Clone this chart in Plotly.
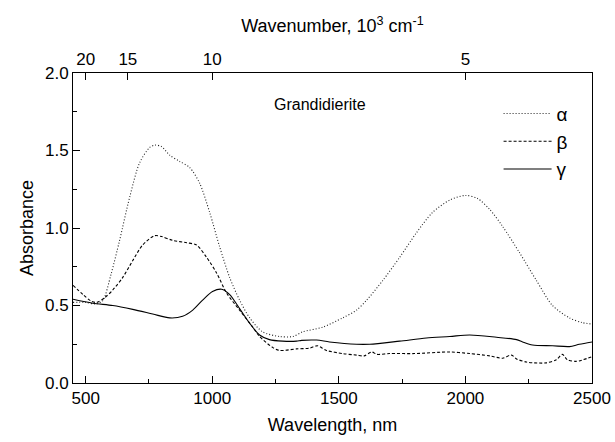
import plotly.graph_objects as go

# Polarized absorption spectra of grandidierite (absorbance vs wavelength, nm)
wl_alpha = [450, 500, 540, 567, 600, 634, 674, 713, 753, 776, 800, 832, 871, 911, 950,
            990, 1029, 1069, 1108, 1148, 1199, 1266, 1318, 1357, 1436, 1515, 1570, 1610,
            1673, 1740, 1807, 1870, 1938, 2000, 2048, 2096, 2147, 2214, 2281, 2344, 2411,
            2460, 2500]
abs_alpha = [0.52, 0.52, 0.51, 0.53, 0.70, 0.92, 1.20, 1.42, 1.52, 1.535, 1.525, 1.47, 1.43,
             1.39, 1.29, 1.10, 0.88, 0.68, 0.535, 0.42, 0.33, 0.30, 0.30, 0.33, 0.36, 0.42,
             0.47, 0.535, 0.66, 0.81, 0.97, 1.10, 1.18, 1.21, 1.19, 1.12, 1.01, 0.84, 0.66,
             0.50, 0.42, 0.39, 0.38]

wl_beta = [450, 490, 520, 543, 575, 607, 646, 686, 725, 772, 800, 844, 899, 938, 978, 1017,
           1057, 1108, 1160, 1187, 1238, 1266, 1333, 1384, 1416, 1451, 1515, 1570, 1600,
           1630, 1650, 1700, 1800, 1938, 2017, 2096, 2147, 2182, 2202, 2241, 2273, 2320,
           2359, 2383, 2403, 2439, 2500]
abs_beta = [0.63, 0.57, 0.53, 0.52, 0.55, 0.60, 0.68, 0.79, 0.89, 0.95, 0.945, 0.92, 0.905,
            0.89, 0.81, 0.71, 0.58, 0.47, 0.36, 0.30, 0.23, 0.21, 0.22, 0.225, 0.24, 0.21,
            0.19, 0.18, 0.175, 0.20, 0.185, 0.19, 0.19, 0.20, 0.19, 0.175, 0.16, 0.18, 0.155,
            0.135, 0.13, 0.13, 0.15, 0.185, 0.15, 0.14, 0.17]

wl_gamma = [450, 528, 607, 686, 765, 832, 883, 923, 962, 1001, 1037, 1069, 1108, 1148, 1187,
            1226, 1278, 1333, 1353, 1412, 1463, 1570, 1622, 1740, 1846, 1938, 2017, 2123,
            2202, 2226, 2265, 2344, 2411, 2450, 2500]
abs_gamma = [0.54, 0.515, 0.50, 0.475, 0.445, 0.42, 0.43, 0.47, 0.535, 0.59, 0.605, 0.57,
             0.48, 0.385, 0.31, 0.28, 0.27, 0.27, 0.275, 0.277, 0.265, 0.25, 0.25, 0.27, 0.29,
             0.30, 0.31, 0.295, 0.28, 0.265, 0.245, 0.24, 0.235, 0.25, 0.265]

# Bottom axis ticks (nm) and top wavenumber ticks (10^3 cm^-1)
wl_ticks = [500, 1000, 1500, 2000, 2500]
wn_labels = [20, 15, 10, 5]
wn_ticks = [1e4 / k for k in wn_labels]  # corresponding wavelength, nm

FONT = "Liberation Sans, Arial, sans-serif"
TICK_SIZE = 17
TITLE_SIZE = 18
line_w = 1.1

fig = go.Figure()
fig.add_trace(go.Scatter(x=wl_alpha, y=abs_alpha, mode="lines", name="\u03b1",
                         line=dict(color="#222222", width=line_w, dash="1px,2px",
                                   shape="spline", smoothing=0.8)))
fig.add_trace(go.Scatter(x=wl_beta, y=abs_beta, mode="lines", name="\u03b2",
                         line=dict(color="black", width=line_w, dash="3px,2px",
                                   shape="spline", smoothing=0.8)))
fig.add_trace(go.Scatter(x=wl_gamma, y=abs_gamma, mode="lines", name="\u03b3",
                         line=dict(color="black", width=line_w,
                                   shape="spline", smoothing=0.8)))
# invisible trace that carries the top wavenumber axis
fig.add_trace(go.Scatter(x=[450, 2500], y=[0, 0], xaxis="x2", mode="lines",
                         line=dict(width=0), showlegend=False, hoverinfo="skip"))

fig.add_annotation(x=1425, y=1.80, text="Grandidierite", showarrow=False,
                   font=dict(size=16, color="black", family=FONT))

fig.update_layout(
    width=615, height=442,
    margin=dict(l=73, r=23, t=73, b=59, autoexpand=False),
    paper_bgcolor="white", plot_bgcolor="white",
    font=dict(family=FONT, color="black", size=TICK_SIZE),
    showlegend=True,
    legend=dict(x=0.82, y=0.93, xanchor="left", yanchor="top",
                bgcolor="rgba(0,0,0,0)", font=dict(size=19, family=FONT),
                tracegroupgap=0, itemwidth=48),
    xaxis=dict(range=[450, 2500], tickvals=wl_ticks, ticks="inside", ticklen=7,
               tickwidth=1, tickcolor="black", showline=True, linecolor="black",
               linewidth=1, mirror=False, showgrid=False, zeroline=False,
               automargin=False,
               minor=dict(tickvals=[750, 1250, 1750, 2250], ticks="inside", ticklen=4,
                          tickcolor="black"),
               title=dict(text="Wavelength, nm", font=dict(size=TITLE_SIZE), standoff=10),
               tickfont=dict(size=TICK_SIZE)),
    xaxis2=dict(range=[450, 2500], overlaying="x", side="top", tickvals=wn_ticks,
                ticktext=[str(k) for k in wn_labels], ticks="inside", ticklen=7,
                tickcolor="black", showline=True, linecolor="black", linewidth=1,
                showgrid=False, zeroline=False, automargin=False,
                title=dict(text="Wavenumber, 10<sup>3</sup> cm<sup>-1</sup>",
                           font=dict(size=TITLE_SIZE), standoff=12),
                tickfont=dict(size=TICK_SIZE)),
    yaxis=dict(range=[0, 2], tickvals=[0, 0.5, 1.0, 1.5, 2.0], tickformat=".1f",
               ticks="inside", ticklen=7, tickcolor="black", showline=True,
               linecolor="black", linewidth=1, mirror=True, showgrid=False,
               zeroline=False, automargin=False,
               minor=dict(tickvals=[0.25, 0.75, 1.25, 1.75], ticks="inside", ticklen=4,
                          tickcolor="black"),
               title=dict(text="Absorbance", font=dict(size=TITLE_SIZE), standoff=6),
               tickfont=dict(size=TICK_SIZE)),
)

fig.write_html("out.html")
